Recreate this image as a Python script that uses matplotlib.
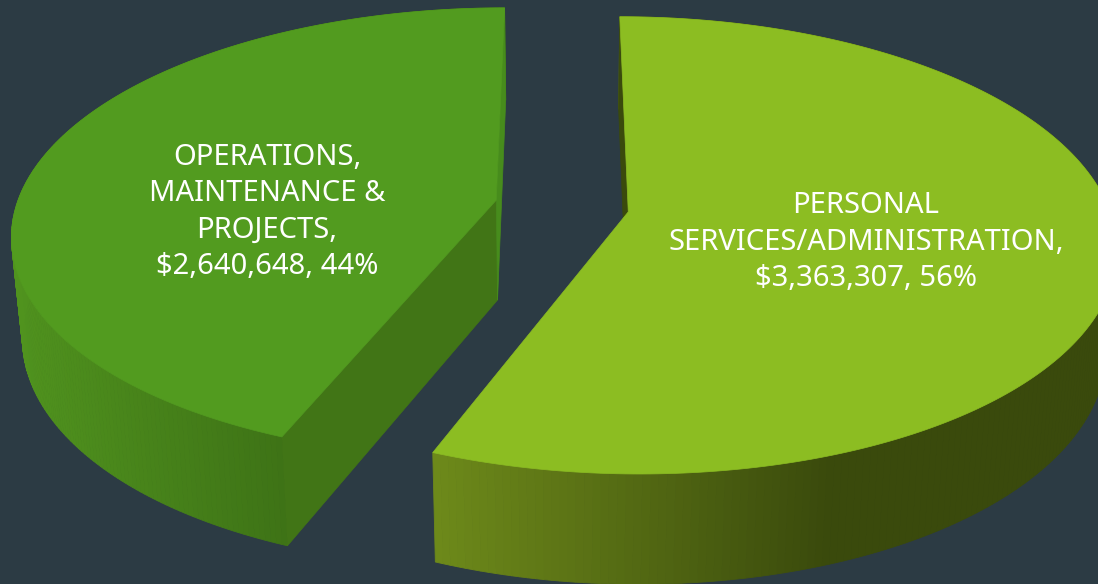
import matplotlib
matplotlib.use('Agg')
import matplotlib.pyplot as plt
import numpy as np

# values from the chart
categories = ['PERSONAL\nSERVICES/ADMINISTRATION,', 'OPERATIONS,\nMAINTENANCE &\nPROJECTS,']
values = [3363307, 2640648]
percents = ['56%', '44%']

top_colors = ['#8cbd22', '#529b1f']
side_x = [[432, 830, 1098], [12, 281]]
side_colors = [['#6e8a1a', '#3a4a0c', '#3a4a0c'], ['#50931e', '#3e7316']]
# cut faces: first edge / last edge of each slice, None if it faces away
face_colors = [['#3a4a0c', None], ['#417516', '#478c1c']]
bg = '#2c3b44'

# projection of the tilted pie onto the picture
cx, cy = 562, 206
ax_scale, ay_scale = 480, 222
persp = 0.146
depth = 100
shrink = 0.98
explode = 0.14


def project(x, y):
    w = 1 + persp * y
    return cx + ax_scale * x / w, cy - ay_scale * y / w


def project_low(x, y):
    w = 1 + persp * y
    sx, sy = project(x, y)
    return cx + (sx - cx) * shrink, sy + depth / w ** 0.6


def hex_rgb(c):
    return np.array(matplotlib.colors.to_rgb(c))


fig = plt.figure(figsize=(10.98, 5.84), dpi=100, facecolor=bg)
ax = fig.add_axes([0, 0, 1, 1])
ax.set_xlim(0, 1098)
ax.set_ylim(584, 0)
ax.axis('off')

fractions = np.array(values) / sum(values)
angles = 90 - np.concatenate([[0], np.cumsum(fractions) * 360])

for i in range(2):
    a0, a1 = np.radians(angles[i]), np.radians(angles[i + 1])
    mid = (a0 + a1) / 2
    ox, oy = explode * np.cos(mid), explode * np.sin(mid)
    t = np.linspace(a0, a1, 240)
    wx = ox + np.cos(t)
    wy = oy + np.sin(t)

    tx, ty = project(wx, wy)
    lx, ly = project_low(wx, wy)
    apx, apy = project(ox, oy)
    alx, aly = project_low(ox, oy)

    # outer wall, shaded by strips
    rgb = np.array([hex_rgb(c) for c in side_colors[i]])
    for j in range(len(t) - 1):
        xm = (tx[j] + tx[j + 1]) / 2
        col = [np.interp(xm, side_x[i], rgb[:, k]) for k in range(3)]
        ax.fill([tx[j], tx[j + 1], lx[j + 1], lx[j]], [ty[j], ty[j + 1], ly[j + 1], ly[j]],
                color=col, lw=0.6, zorder=2)

    # the cut faces that can be seen
    for k, end in enumerate([0, -1]):
        if face_colors[i][k]:
            ax.fill([tx[end], apx, alx, lx[end]], [ty[end], apy, aly, ly[end]],
                    color=face_colors[i][k], lw=0.5, zorder=3)

    # top surface
    ax.fill(np.r_[apx, tx], np.r_[apy, ty], color=top_colors[i], lw=0.5, zorder=4)

for i, (lx_, ly_) in enumerate([(866, 242), (267, 212)]):
    txt = f'{categories[i]}\n${values[i]:,}, {percents[i]}'
    ax.text(lx_, ly_, txt, color='white', ha='center', va='center', fontsize=21,
            family='Noto Sans', linespacing=1.34, zorder=5)

fig.savefig('out.png', dpi=100, facecolor=bg)
